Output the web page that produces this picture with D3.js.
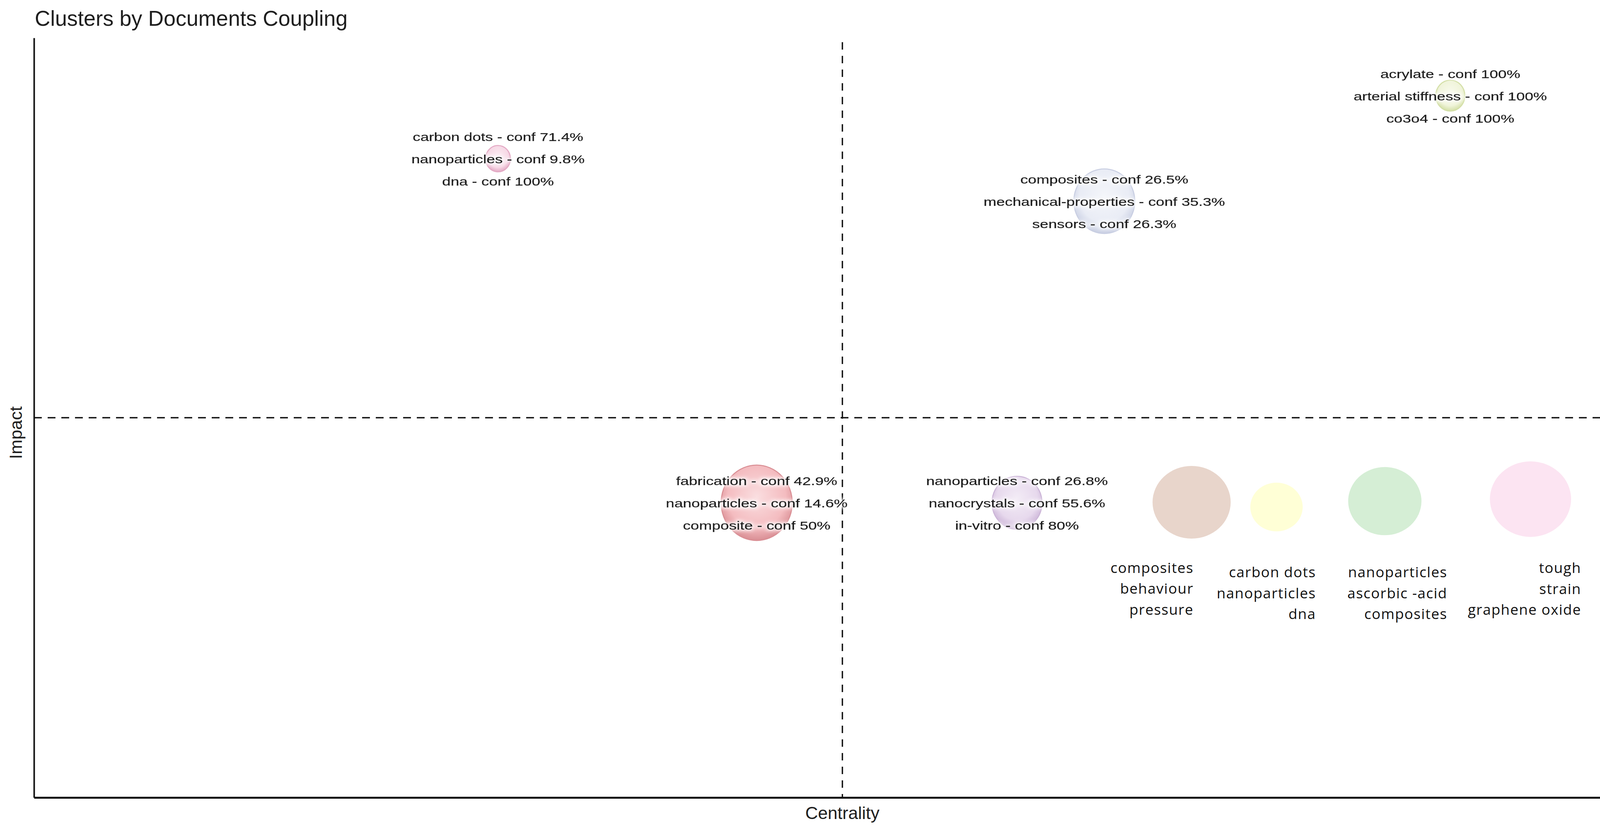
<!DOCTYPE html>
<html>
<head>
<meta charset="utf-8">
<script src="https://cdn.jsdelivr.net/npm/d3@7"></script>
<style>
  body { margin: 0; background: #fff; }
  svg { display: block; }
</style>
</head>
<body>
<svg id="chart" width="4248" height="2120"></svg>
<script>
// clusters in the strategic map
const centrality = [0.287, 0.662, 0.876, 0.447, 0.608];
const impact = [0.841, 0.785, 0.924, 0.388, 0.388];
const clusterFreq = [10.2, 61, 14, 83, 41];
const clusterLabels = [
    ['carbon dots - conf 71.4%', 'nanoparticles - conf 9.8%', 'dna - conf 100%'],
    ['composites - conf 26.5%', 'mechanical-properties - conf 35.3%', 'sensors - conf 26.3%'],
    ['acrylate - conf 100%', 'arterial stiffness - conf 100%', 'co3o4 - conf 100%'],
    ['fabrication - conf 42.9%', 'nanoparticles - conf 14.6%', 'composite - conf 50%'],
    ['nanoparticles - conf 26.8%', 'nanocrystals - conf 55.6%', 'in-vitro - conf 80%']
];

// flat clusters drawn on the right
const legendCentrality = [0.716, 0.7685, 0.8355, 0.9256];
const legendImpact = [0.3887, 0.3825, 0.3902, 0.3928];
const legendFreq = [100, 45, 88, 108];
const legendTerms = [
    ['composites', 'behaviour', 'pressure'],
    ['carbon dots', 'nanoparticles', 'dna'],
    ['nanoparticles', 'ascorbic -acid', 'composites'],
    ['tough', 'strain', 'graphene oxide']
];

// styles
const clusterBase = ['#f7d9e6', '#e9ecf5', '#f0f4da', '#f4bcc0', '#e7d9ed'];
const clusterEdge = ['#e3a9c4', '#c8cee2', '#d3dfa6', '#d98e94', '#cbb4d7'];
const legendFill = ['#e8d5cb', '#ffffd6', '#d5eed5', '#fce4f2'];
const legendLabelDx = [5, 101, 160, 130];
const legendLabelDy = [181, 180, 195, 189];

const svg = d3.select('#chart');
const plotLeft = 87, plotRight = 4226, plotTop = 97, plotBottom = 2042;

const x = d3.scaleLinear().domain([0, 1]).range([plotLeft, plotRight]);
const y = d3.scaleLinear().domain([0, 1]).range([plotBottom, plotTop]);
const r = d3.scaleSqrt().domain([0, 100]).range([0, 100]);

const defs = svg.append('defs');

// soft white glow behind labels
const halo = defs.append('filter').attr('id', 'halo')
    .attr('x', '-10%').attr('y', '-40%').attr('width', '120%').attr('height', '180%');
halo.append('feMorphology').attr('in', 'SourceAlpha').attr('operator', 'dilate').attr('radius', 3).attr('result', 'd');
halo.append('feGaussianBlur').attr('in', 'd').attr('stdDeviation', 4).attr('result', 'b');
halo.append('feFlood').attr('flood-color', '#fff').attr('flood-opacity', 0.85);
halo.append('feComposite').attr('in2', 'b').attr('operator', 'in').attr('result', 'h');
const merge = halo.append('feMerge');
merge.append('feMergeNode').attr('in', 'h');
merge.append('feMergeNode').attr('in', 'SourceGraphic');

clusterBase.forEach((c, i) => {
    const g = defs.append('radialGradient').attr('id', 'grad' + i)
        .attr('cx', '50%').attr('cy', '42%').attr('r', '58%');
    g.append('stop').attr('offset', '0%').attr('stop-color', d3.interpolateRgb(c, '#fff')(0.5));
    g.append('stop').attr('offset', '70%').attr('stop-color', c);
    g.append('stop').attr('offset', '100%').attr('stop-color', clusterEdge[i]);
});

// title
svg.append('text')
    .attr('x', 89).attr('y', 66)
    .attr('font-family', 'Liberation Sans, Arial, sans-serif')
    .attr('font-size', 55)
    .attr('fill', '#1e1e1e')
    .text('Clusters by Documents Coupling');

// axes
svg.append('g')
    .attr('transform', `translate(${plotLeft},0)`)
    .call(d3.axisLeft(y).ticks(0).tickSizeOuter(0))
    .select('.domain').attr('stroke', '#111').attr('stroke-width', 4);

svg.append('g')
    .attr('transform', `translate(0,${plotBottom})`)
    .call(d3.axisBottom(x).ticks(0).tickSizeOuter(0))
    .select('.domain').attr('stroke', '#111').attr('stroke-width', 5);

// quadrant lines
svg.append('line')
    .attr('x1', x(0.5)).attr('x2', x(0.5))
    .attr('y1', 108).attr('y2', plotBottom)
    .attr('stroke', '#111').attr('stroke-width', 3.5)
    .attr('stroke-dasharray', '19,16');

svg.append('line')
    .attr('x1', plotLeft).attr('x2', plotRight)
    .attr('y1', y(0.5)).attr('y2', y(0.5))
    .attr('stroke', '#111').attr('stroke-width', 3.5)
    .attr('stroke-dasharray', '20,15');

// axis titles
svg.append('text')
    .attr('x', x(0.5)).attr('y', 2097)
    .attr('text-anchor', 'middle')
    .attr('font-family', 'Liberation Sans, Arial, sans-serif')
    .attr('font-size', 45).attr('fill', '#1e1e1e')
    .text('Centrality');

svg.append('text')
    .attr('transform', 'translate(56,1108) rotate(-90)')
    .attr('text-anchor', 'middle')
    .attr('font-family', 'Liberation Sans, Arial, sans-serif')
    .attr('font-size', 45).attr('fill', '#1e1e1e')
    .text('Impact');

// flat clusters
const legend = svg.append('g');
legend.selectAll('ellipse')
    .data(legendFreq)
    .enter()
    .append('ellipse')
    .attr('cx', (d, i) => x(legendCentrality[i]))
    .attr('cy', (d, i) => y(legendImpact[i]))
    .attr('rx', d => r(d))
    .attr('ry', d => r(d) * 0.93)
    .attr('fill', (d, i) => legendFill[i]);

legendTerms.forEach((terms, i) => {
    const ax = x(legendCentrality[i]) + legendLabelDx[i];
    const ay = y(legendImpact[i]) + legendLabelDy[i];
    legend.selectAll('.term' + i)
        .data(terms)
        .enter()
        .append('text')
        .attr('x', ax)
        .attr('y', (d, j) => ay + j * 53.5)
        .attr('text-anchor', 'end')
        .attr('font-family', 'Open Sans, sans-serif')
        .attr('font-size', 37)
        .attr('letter-spacing', 1.5)
        .attr('fill', '#111')
        .text(d => d);
});

// bubbles
const bubbles = svg.append('g');
bubbles.selectAll('ellipse')
    .data(clusterFreq)
    .enter()
    .append('ellipse')
    .attr('cx', (d, i) => x(centrality[i]))
    .attr('cy', (d, i) => y(impact[i]))
    .attr('rx', d => r(d))
    .attr('ry', d => r(d) * 1.06)
    .attr('fill', (d, i) => `url(#grad${i})`)
    .attr('stroke', (d, i) => clusterEdge[i])
    .attr('stroke-width', 2.5);

// bubble labels
clusterLabels.forEach((lines, i) => {
    const cx = x(centrality[i]);
    const cy = y(impact[i]);
    bubbles.selectAll('.lab' + i)
        .data(lines)
        .enter()
        .append('text')
        .attr('transform', (d, j) => `translate(${cx},${cy + 12 + (j - 1) * 57}) scale(1.31,1)`)
        .attr('text-anchor', 'middle')
        .attr('font-family', 'Liberation Sans, Arial, sans-serif')
        .attr('font-size', 30)
        .attr('fill', '#1a1a1a')
        .attr('stroke', '#1a1a1a')
        .attr('stroke-width', 0.6)
        .attr('filter', 'url(#halo)')
        .text(d => d);
});
</script>
</body>
</html>
